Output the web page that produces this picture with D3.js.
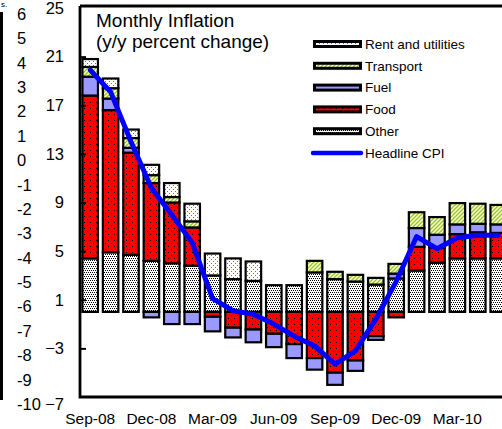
<!DOCTYPE html>
<html><head><meta charset="utf-8">
<script src="https://cdn.jsdelivr.net/npm/d3@7"></script>
<style>
html,body{margin:0;padding:0;background:#fff;}
svg{display:block;font-family:Arial,"Liberation Sans",sans-serif;}
</style></head>
<body>
<svg id="chart" width="502" height="429"></svg>
<script>
// ---- data ----
const months = ["Sep-08","Oct-08","Nov-08","Dec-08","Jan-09","Feb-09","Mar-09","Apr-09","May-09","Jun-09","Jul-09","Aug-09","Sep-09","Oct-09","Nov-09","Dec-09","Jan-10","Feb-10","Mar-10","Apr-10","May-10"];
const other     = [4.4, 4.9, 4.7, 4.2, 4.0, 3.8, 3.0, 2.7, 2.55, 2.2, 2.2, 3.25, 2.7, 2.5, 2.25, 2.75, 3.4, 4.05, 4.4, 4.4, 4.4];
const food      = [13.4, 11.7, 8.4, 6.4, 5.0, 3.15, -0.4, -1.3, -1.45, -1.8, -2.65, -3.8, -5.0, -4.0, -2.0, -0.45, 1.95, 1.25, 2.0, 2.15, 2.1];
const fuel      = [1.55, 0.95, 0.4, -0.45, -1.0, -1.0, -1.2, -0.8, -1.05, -1.1, -1.15, -0.95, -1.0, -0.85, -0.3, 0.4, 1.55, 1.05, 0.8, 0.7, 0.7];
const transport = [0.8, 0.85, 0.8, 0.65, 0.45, 0.5, 0, 0, 0, 0, 0, 0.95, 0.6, 0.55, 0.55, 0.8, 1.3, 1.45, 1.75, 1.65, 1.6];
const rent      = [0.65, 0.8, 0.7, 0.85, 1.15, 1.45, 1.8, 1.7, 1.6, 0, 0, 0, 0, 0, 0, 0, 0, 0, 0, 0, 0];
const headlineCPI = [19.9, 18.1, 14.0, 10.2, 8.0, 5.7, 1.1, 0.1, -0.2, -1.0, -2.0, -2.8, -4.3, -3.2, -0.6, 2.5, 6.2, 5.2, 6.1, 6.3, 6.3];
const yTicks = [25, 21, 17, 13, 9, 5, 1, -3, -7];
const xTickLabels = ["Sep-08","Dec-08","Mar-09","Jun-09","Sep-09","Dec-09","Mar-10"];
const leftRemnantTicks = [6,5,4,3,2,1,0,-1,-2,-3,-4,-5,-6,-7,-8,-9,-10];
const seriesNames = ["Other","Food","Fuel","Transport","Rent and utilities"];
const legendOrder = ["Rent and utilities","Transport","Fuel","Food","Other"];
const title1 = "Monthly Inflation";
const title2 = "(y/y percent change)";

const svg = d3.select("#chart");
const defs = svg.append("defs");

// patterns
function dotPattern(id, bg, dot, w, h, pts){
  const p = defs.append("pattern").attr("id", id).attr("patternUnits","userSpaceOnUse")
    .attr("width", w).attr("height", h);
  p.append("rect").attr("width", w).attr("height", h).attr("fill", bg).attr("shape-rendering","crispEdges");
  pts.forEach(([px,py]) => p.append("rect").attr("x",px).attr("y",py).attr("width",1).attr("height",1)
    .attr("fill",dot).attr("shape-rendering","crispEdges"));
}
dotPattern("pOther", "#ffffff", "#000000", 4, 4, [[0,0],[2,0],[1,2],[3,2]]);
dotPattern("pFood", "#ff0000", "#000000", 6, 6, [[0,0],[3,3]]);
dotPattern("pRent", "#ffffff", "#808000", 4, 4, [[1,1],[3,3]]);
{
  const p = defs.append("pattern").attr("id","pTransport").attr("patternUnits","userSpaceOnUse")
    .attr("width",4).attr("height",4);
  p.append("rect").attr("width",4).attr("height",4).attr("fill","#ffffff");
  p.append("path").attr("d","M-1,5 L5,-1 M-1,1 L1,-1 M3,5 L5,3").attr("stroke","#99cc00").attr("stroke-width",1.4);
}
const fills = {"Other":"url(#pOther)","Food":"url(#pFood)","Fuel":"#9999ff","Transport":"url(#pTransport)","Rent and utilities":"url(#pRent)"};

// layout
const plotLeft = 80, plotTop = 6, plotBottom = 397;
const step = 20.4;
const x = d3.scaleBand().domain(months).range([plotLeft, plotLeft + step*months.length]).paddingInner(0.24).paddingOuter(0.12);
const y = d3.scaleLinear().domain([-7, 25]).range([plotBottom, plotTop + 2]);

// stacked data
const table = months.map((m,i) => ({month:m, "Other":other[i], "Food":food[i], "Fuel":fuel[i], "Transport":transport[i], "Rent and utilities":rent[i]}));
const stack = d3.stack().keys(seriesNames).offset(d3.stackOffsetDiverging);
const stacked = stack(table);

const barsG = svg.append("g");
stacked.forEach(s => {
  barsG.selectAll(null).data(s.filter(d => Math.abs(d[1]-d[0]) > 1e-9)).enter().append("rect")
    .attr("x", d => x(d.data.month))
    .attr("width", x.bandwidth())
    .attr("y", d => y(Math.max(d[0], d[1])))
    .attr("height", d => Math.abs(y(d[0]) - y(d[1])))
    .attr("fill", fills[s.key])
    .attr("stroke", "#000").attr("stroke-width", 2.2);
});

// CPI line
const line = d3.line().x((d,i) => x(months[i]) + x.bandwidth()/2).y(d => y(d));
svg.append("path").datum(headlineCPI).attr("d", line).attr("fill","none")
  .attr("stroke","#0000ff").attr("stroke-width",5).attr("stroke-linejoin","round").attr("stroke-linecap","round");

// frame
svg.append("path").attr("d", `M${plotLeft},${plotTop} L${plotLeft},${plotBottom} L520,${plotBottom}`)
  .attr("fill","none").attr("stroke","#000").attr("stroke-width",2.8);
svg.append("line").attr("x1",plotLeft).attr("x2",520).attr("y1",plotTop).attr("y2",plotTop)
  .attr("stroke","#000").attr("stroke-width",2.8);

// y axis
const yAxis = d3.axisLeft(y).tickValues(yTicks).tickSizeInner(-6).tickSizeOuter(0).tickPadding(16).tickFormat(d3.format("d"));
const yg = svg.append("g").attr("transform", `translate(${plotLeft},0)`).call(yAxis);
yg.select(".domain").remove();
yg.selectAll(".tick line").attr("stroke","#000").attr("stroke-width",2);
yg.selectAll(".tick text").attr("font-size",16.5).attr("font-family","Arial, 'Liberation Sans', sans-serif").attr("fill","#000");
yg.selectAll(".tick").filter(d => d === -7).select("text").attr("dy","0.78em");
yg.selectAll(".tick").filter(d => d === 25 || d === -7).select("line").remove();

// x axis
const xAxis = d3.axisBottom(x).tickValues(xTickLabels).tickSize(0).tickPadding(16);
const xg = svg.append("g").attr("transform", `translate(0,${plotBottom})`).call(xAxis);
xg.select(".domain").remove();
xg.selectAll(".tick text").attr("font-size",15.5).attr("font-family","Arial, 'Liberation Sans', sans-serif").attr("fill","#000");

// title
svg.append("text").attr("x",96).attr("y",27).attr("font-size",19).text(title1);
svg.append("text").attr("x",96).attr("y",48).attr("font-size",19).text(title2);

// legend
const legY0 = 44, legStep = 21.8;
const lg = svg.append("g");
legendOrder.forEach((name,i) => {
  const cy = legY0 + i*legStep;
  lg.append("rect").attr("x",314.5).attr("y",cy-2.5).attr("width",46).attr("height",5)
    .attr("fill",fills[name]).attr("stroke","#000").attr("stroke-width",3);
  lg.append("text").attr("x",365).attr("y",cy).attr("dy","0.36em").attr("font-size",13.5).text(name);
});
{
  const cy = legY0 + 5*legStep;
  lg.append("line").attr("x1",313).attr("x2",361).attr("y1",cy).attr("y2",cy)
    .attr("stroke","#0000ff").attr("stroke-width",4.5).attr("stroke-linecap","round");
  lg.append("text").attr("x",365).attr("y",cy).attr("dy","0.36em").attr("font-size",13.5).text("Headline CPI");
}

// remnant of neighbouring chart at left edge
const yl = d3.scaleLinear().domain([6,-10]).range([14,404]);
svg.append("g").selectAll("text").data(leftRemnantTicks).enter().append("text")
  .attr("x",17).attr("y",d => yl(d)).attr("dy","0.36em").attr("font-size",16.5).text(d => d);
svg.append("rect").attr("x",-2).attr("y",12).attr("width",5).attr("height",388).attr("fill","#000");
svg.append("text").attr("x",1).attr("y",7).attr("font-size",8).text("s.");
</script>
</body></html>
